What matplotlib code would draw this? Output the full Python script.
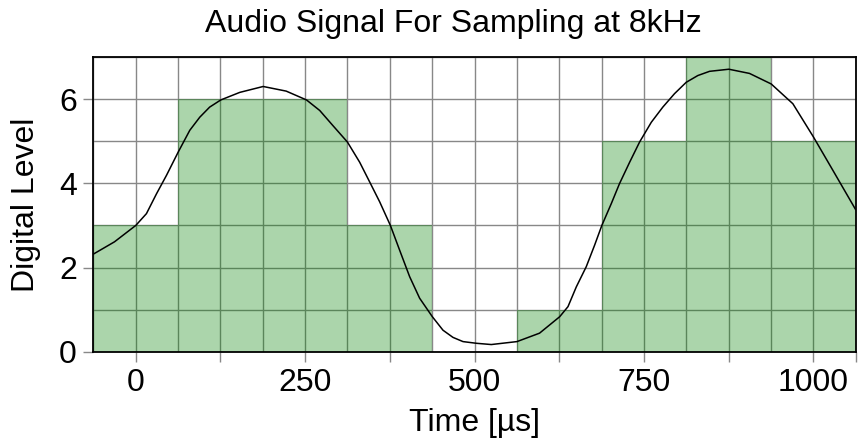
import matplotlib
matplotlib.use("Agg")
import matplotlib.pyplot as plt
from matplotlib.ticker import MultipleLocator

plt.rcParams['font.family'] = ['Liberation Sans', 'DejaVu Sans']

# sampled levels (one per 125 us sample)
sample_times = [0, 125, 250, 375, 500, 625, 750, 875, 1000]
levels = [3, 6, 6, 3, 0, 1, 5, 7, 5]

# analog signal
curve_t = [-62.5, -31.5, 0, 15.7, 30.5, 45.3, 62.5, 79.7, 94.4, 109, 125.4, 153.5, 188,
           222, 252, 271.5, 291, 312.4, 330.5, 345.3, 360, 375.8, 389.5, 404.3, 419,
           437.8, 453.5, 468.2, 483, 502.7, 524.8, 562.7, 596, 625.7, 638, 650.3, 665,
           677.3, 688, 702, 714, 729, 743.7, 761, 778, 795.3, 812.6, 829.7, 847, 875.5,
           906, 938, 970, 1000.4, 1029, 1062.5]
curve_v = [2.32, 2.61, 3.0, 3.28, 3.75, 4.19, 4.74, 5.26, 5.57, 5.81, 5.98, 6.16, 6.30,
           6.19, 5.98, 5.73, 5.37, 4.98, 4.50, 4.03, 3.56, 3.0, 2.41, 1.78, 1.27,
           0.83, 0.51, 0.34, 0.24, 0.20, 0.17, 0.24, 0.44, 0.83, 1.07, 1.54, 2.02,
           2.53, 3.0, 3.52, 3.99, 4.50, 4.98, 5.45, 5.81, 6.13, 6.40, 6.56, 6.66, 6.71,
           6.61, 6.36, 5.89, 5.10, 4.31, 3.38]

x_ticks = [0, 125, 250, 375, 500, 625, 750, 875, 1000, 1062.5]
x_labels = ["0", "", "250", "", "500", "", "750", "", "1000", ""]

fig = plt.figure(figsize=(8.6, 4.43), dpi=100)
ax = fig.add_axes([0.1087, 0.2061, 0.8861, 0.6652])

ax.bar(sample_times, levels, width=125, color='green', alpha=0.33, linewidth=0, zorder=2)
ax.plot(curve_t, curve_v, color='black', linewidth=1.1, zorder=3)

ax.set_xlim(-62.5, 1062.5)
ax.set_ylim(0, 7)

ax.set_xticks(x_ticks)
ax.set_xticklabels(x_labels)
ax.xaxis.set_minor_locator(MultipleLocator(62.5))
ax.set_yticks([0, 2, 4, 6])
ax.yaxis.set_minor_locator(MultipleLocator(1))

ax.set_axisbelow(True)
ax.grid(which='both', color='#888888', linewidth=1.0)
ax.tick_params(which='major', length=7, width=1.0, color='#888888', labelsize=23, pad=5)
ax.tick_params(which='minor', length=0)

for s in ax.spines.values():
    s.set_linewidth(1.3)
    s.set_color('black')
    s.set_zorder(4)

ax.set_xlabel("Time [µs]", fontsize=23, labelpad=7)
ax.set_ylabel("Digital Level", fontsize=23, labelpad=13)
ax.set_title("Audio Signal For Sampling at 8kHz", fontsize=23, x=0.472, pad=18)

fig.savefig("out.png", dpi=100)
